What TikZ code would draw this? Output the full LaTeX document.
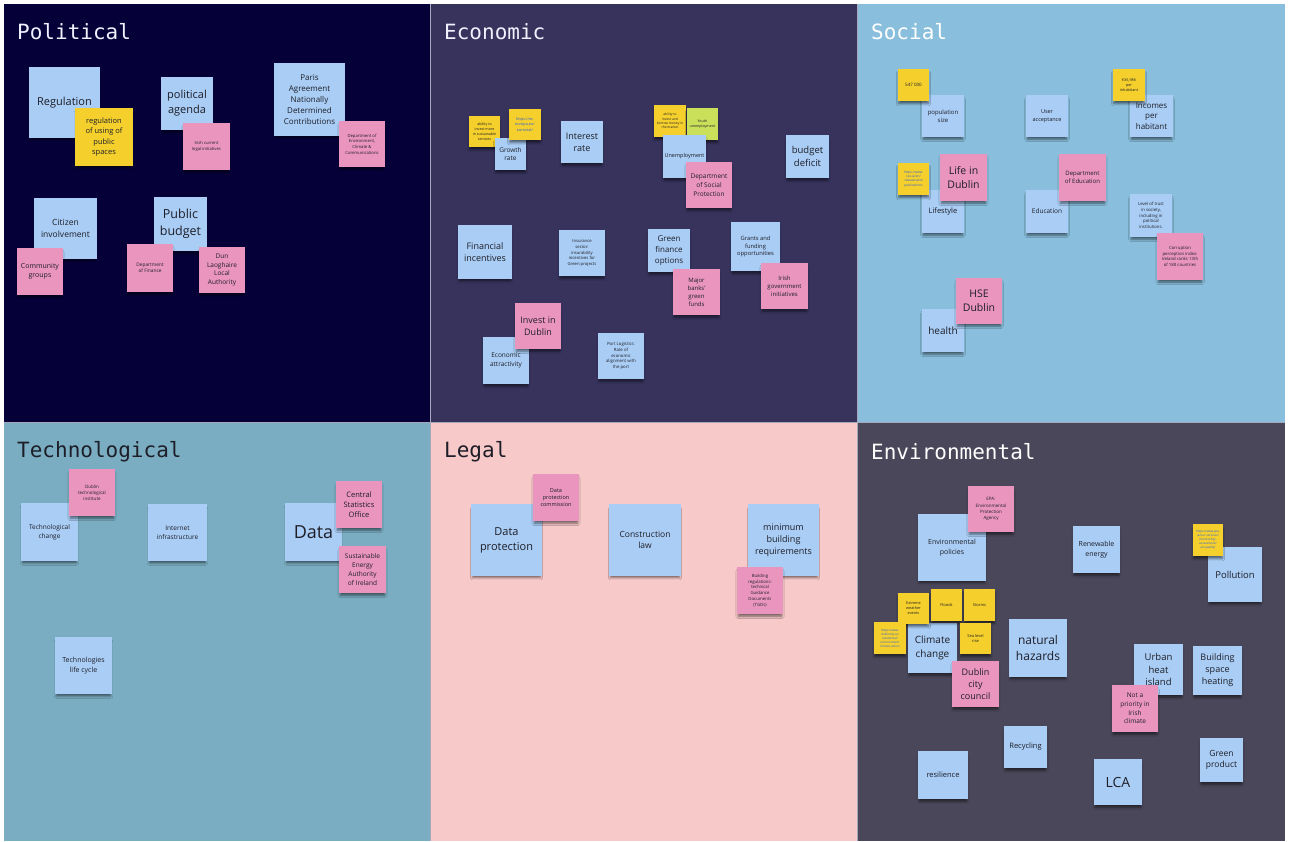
\documentclass[tikz,border=0pt]{standalone}
\usepackage{fontspec}
\setmainfont{Open Sans}
\newfontfamily\pestlemono{DejaVu Sans Mono}
\usetikzlibrary{shadows.blur}

\definecolor{pestlepolitical}{HTML}{050038}
\definecolor{pestleeconomic}{HTML}{37335D}
\definecolor{pestlesocial}{HTML}{89BFDD}
\definecolor{pestletech}{HTML}{7AADC2}
\definecolor{pestlelegal}{HTML}{F8C9C9}
\definecolor{pestleenv}{HTML}{494759}
\definecolor{pestlegap}{HTML}{A8A8BC}
\definecolor{pestleblue}{HTML}{A9CDF4}
\definecolor{pestlepink}{HTML}{EA95BE}
\definecolor{pestleyellow}{HTML}{F5D02C}
\definecolor{pestlelime}{HTML}{CBE05A}
\definecolor{pestleink}{HTML}{1E1E28}
\definecolor{pestlelink}{HTML}{2F5FD8}

% sticky note text: size in pt, leading 1.35x
\newcommand\notesize[1]{\fontsize{#1}{\fpeval{1.35*#1}}\selectfont}

\begin{document}
\begin{tikzpicture}[x=1pt,y=-1pt,
  every node/.style={text=pestleink,inner sep=1pt},
  pestletitle/.style={anchor=west,font=\pestlemono\fontsize{21}{24}\selectfont},
  pestlenote/.style={rectangle,align=center,
    blur shadow={shadow xshift=0pt,shadow yshift=-3.5pt,shadow scale=.95,
      shadow blur radius=2.5pt,shadow opacity=55}},
  bluenote/.style={pestlenote,fill=pestleblue},
  pinknote/.style={pestlenote,fill=pestlepink},
  yellownote/.style={pestlenote,fill=pestleyellow},
  limenote/.style={pestlenote,fill=pestlelime},
  linknote/.style={yellownote,text=pestlelink},
  wh/.style 2 args={minimum width=#1,minimum height=#2},
  fs/.style={font=\notesize{#1}}]
\useasboundingbox (0,0) rectangle (1290,841);
\fill[white] (0,0) rectangle (1290,841);

% the six fields
\fill[pestlegap] (4,4) rectangle (1285,841);
\fill[pestlepolitical] (4,4) rectangle (430,422);
\fill[pestleeconomic] (431,4) rectangle (857,422);
\fill[pestlesocial] (858,4) rectangle (1285,422);
\fill[pestletech] (4,423) rectangle (430,841);
\fill[pestlelegal] (431,423) rectangle (857,841);
\fill[pestleenv] (858,423) rectangle (1285,841);

\node[pestletitle,text=white!94!blue] (tpol) at (16,32) {Political};
\node[pestletitle,text=white!94!blue] (teco) at (443,32) {Economic};
\node[pestletitle,text=white] (tsoc) at (870,32) {Social};
\node[pestletitle,text=pestleink] (ttec) at (16,452) {Technological};
\node[pestletitle,text=pestleink] (tleg) at (443,452) {Legal};
\node[pestletitle,text=white] (tenv) at (870,452) {Environmental};

% political
\node[bluenote,wh={71}{71},fs=11] (regulation) at (64.5,102.5) {Regulation};
\node[yellownote,wh={58}{58},fs=7.5] (publicspace) at (104,137) {regulation\\of using of\\public\\spaces};
\node[bluenote,wh={52}{53},fs=11] (agenda) at (187,103.5) {political\\agenda};
\node[pinknote,wh={47}{47},fs=4.2] (irishlegal) at (206.5,146.5) {Irish current\\legal initiatives};
\node[bluenote,wh={71}{73},fs=8] (paris) at (309.5,99.5) {Paris\\Agreement\\Nationally\\Determined\\Contributions};
\node[pinknote,wh={46}{46},fs=4.2] (decc) at (362,144) {Department of\\Environment,\\Climate \&\\Communications};
\node[bluenote,wh={63}{61},fs=8.5] (citizen) at (65.5,228.5) {Citizen\\involvement};
\node[pinknote,wh={46}{47},fs=7] (community) at (40,271.5) {Community\\groups};
\node[bluenote,wh={53}{54},fs=12.5] (budget) at (180.5,224) {Public\\budget};
\node[pinknote,wh={46}{48},fs=4.8] (finance) at (150,268) {Department\\of Finance};
\node[pinknote,wh={46}{46},fs=6.5] (dlr) at (222,270) {Dun\\Laoghaire\\Local\\Authority};

% economic
\node[yellownote,wh={31}{31},fs=3.6] (invest) at (484.5,131.5) {ability to\\invest more\\in sustainable\\services};
\node[bluenote,wh={31}{32},fs=6.5] (growth) at (510.5,154) {Growth\\rate};
\node[linknote,wh={32}{31},fs=3.8] (eurostat) at (525,124.5) {https://ec.\\europa.eu/\\eurostat/};
\node[bluenote,wh={42}{42},fs=9] (interest) at (582,142) {Interest\\rate};
\node[yellownote,wh={32}{32},fs=3.3] (borrow) at (670,121) {ability to\\invest and\\borrow money in\\the market};
\node[limenote,wh={31}{32},fs=3.6] (youth) at (702.5,124) {Youth\\unemployment};
\node[bluenote,wh={43}{43},fs=5.5] (unemployment) at (684.5,156.5) {Unemployment};
\node[pinknote,wh={46}{46},fs=6.5] (socialprot) at (709,185) {Department\\of Social\\Protection};
\node[bluenote,wh={43}{43},fs=9.5] (deficit) at (807.5,156.5) {budget\\deficit};
\node[bluenote,wh={54}{54},fs=9] (incentives) at (485,252) {Financial\\incentives};
\node[bluenote,wh={46}{46},fs=4.2] (insurance) at (582,253) {Insurance\\sector:\\insurability\\incentives for\\Green projects};
\node[bluenote,wh={42}{43},fs=8] (greenfin) at (669,250.5) {Green\\finance\\options};
\node[pinknote,wh={47}{46},fs=6] (banks) at (696.5,292) {Major\\banks'\\green\\funds};
\node[bluenote,wh={49}{49},fs=5.8] (grants) at (755.5,246.5) {Grants and\\funding\\opportunities};
\node[pinknote,wh={47}{46},fs=6] (govinit) at (784.5,286) {Irish\\government\\initiatives};
\node[bluenote,wh={46}{47},fs=6.5] (attract) at (506,360.5) {Economic\\attractivity};
\node[pinknote,wh={46}{46},fs=9] (investdub) at (538,326) {Invest in\\Dublin};
\node[bluenote,wh={46}{46},fs=4.3] (port) at (621,356) {Port Logistics:\\Rate of\\economic\\alignment with\\the port};

% social
\node[bluenote,wh={42}{42},fs=6] (popsize) at (943,116) {population\\size};
\node[yellownote,wh={31}{32},fs=4.5] (popcount) at (913.5,85) {547 000};
\node[bluenote,wh={42}{42},fs=5.5] (acceptance) at (1047,116) {User\\acceptance};
\node[bluenote,wh={43}{42},fs=8] (incomes) at (1151.5,116) {Incomes\\per\\habitant};
\node[yellownote,wh={32}{32},fs=3.8] (income) at (1129,85) {€36,986\\per\\inhabitant};
\node[bluenote,wh={42}{43},fs=7.5] (lifestyle) at (943,211.5) {Lifestyle};
\node[linknote,wh={31}{32},fs=3.2] (cso) at (913.5,179) {https://www.\\cso.ie/en/\\releasesand\\publications};
\node[pinknote,wh={47}{47},fs=10.5] (lifedublin) at (963.5,177.5) {Life in\\Dublin};
\node[bluenote,wh={42}{43},fs=6.5] (education) at (1047,211.5) {Education};
\node[pinknote,wh={47}{47},fs=6] (deptedu) at (1082.5,177.5) {Department\\of Education};
\node[bluenote,wh={42}{43},fs=4.3] (trust) at (1151,215.5) {Level of trust\\in society,\\including in\\political\\institutions.};
\node[pinknote,wh={46}{47},fs=4.3] (corruption) at (1180,256.5) {Corruption\\perception index:\\Ireland ranks 13th\\of 180 countries};
\node[bluenote,wh={42}{43},fs=10] (health) at (943,330.5) {health};
\node[pinknote,wh={46}{46},fs=10.5] (hse) at (979,301) {HSE\\Dublin};

% technological
\node[bluenote,wh={57}{58},fs=6.5] (techchange) at (49.5,532) {Technological\\change};
\node[pinknote,wh={46}{47},fs=4.5] (tudublin) at (92,492.5) {Dublin\\technological\\institute};
\node[bluenote,wh={59}{57},fs=6.5] (internet) at (177.5,532.5) {Internet\\infrastructure};
\node[bluenote,wh={57}{58},fs=18] (data) at (313.5,532) {Data};
\node[pinknote,wh={46}{47},fs=7.5] (statsoffice) at (359,504.5) {Central\\Statistics\\Office};
\node[pinknote,wh={47}{47},fs=6.5] (seai) at (362.5,569.5) {Sustainable\\Energy\\Authority\\of Ireland};
\node[bluenote,wh={57}{57},fs=7] (lifecycle) at (83.5,665.5) {Technologies\\life cycle};

% legal
\node[bluenote,wh={71}{72},fs=11] (dataprot) at (506.5,540) {Data\\protection};
\node[pinknote,wh={46}{47},fs=5.5] (dpc) at (556,497.5) {Data\\protection\\commission};
\node[bluenote,wh={72}{72},fs=8.5] (construction) at (645,540) {Construction\\law};
\node[bluenote,wh={71}{72},fs=9] (minreq) at (783.5,540) {minimum\\building\\requirements};
\node[pinknote,wh={46}{47},fs=4.3] (buildregs) at (760,590.5) {Building\\regulations:\\technical\\Guidance\\Documents\\(TGDs)};

% environmental
\node[bluenote,wh={68}{67},fs=7] (envpolicy) at (952,547.5) {Environmental\\policies};
\node[pinknote,wh={46}{46},fs=4.5] (epa) at (991,509) {EPA:\\Environmental\\Protection\\Agency};
\node[bluenote,wh={47}{47},fs=7] (renewable) at (1096.5,549.5) {Renewable\\energy};
\node[bluenote,wh={54}{55},fs=9.5] (pollution) at (1235,574.5) {Pollution};
\node[linknote,wh={30}{32},fs=3] (epalink) at (1208,540) {https://www.epa.\\ie/our-services/\\monitoring--\\assessment/\\air-quality/};
\node[bluenote,wh={49}{50},fs=10] (climate) at (932.5,648) {Climate\\change};
\node[yellownote,wh={31}{31},fs=3.8] (extreme) at (913.5,608.5) {Extreme\\weather\\events};
\node[yellownote,wh={31}{32},fs=4] (floods) at (946.5,605) {Floods};
\node[yellownote,wh={31}{32},fs=4] (storms) at (979.5,605) {Storms};
\node[linknote,wh={32}{32},fs=3] (climatelink) at (890,638) {https://www.\\dublincity.ie/\\residential/\\environment/\\climate-action};
\node[yellownote,wh={31}{31},fs=4] (sealevel) at (975.5,638.5) {Sea level\\rise};
\node[pinknote,wh={47}{46},fs=9] (dcc) at (975.5,684) {Dublin\\city\\council};
\node[bluenote,wh={58}{58},fs=12] (hazards) at (1038,648) {natural\\hazards};
\node[bluenote,wh={49}{51},fs=9.5] (heatisland) at (1158.5,669.5) {Urban\\heat\\island};
\node[bluenote,wh={49}{49},fs=9] (heating) at (1217.5,670.5) {Building\\space\\heating};
\node[pinknote,wh={46}{47},fs=6.5] (priority) at (1135,708.5) {Not a\\priority in\\Irish\\climate};
\node[bluenote,wh={50}{48},fs=7.5] (resilience) at (943,775) {resilience};
\node[bluenote,wh={43}{42},fs=7.5] (recycling) at (1025.5,747) {Recycling};
\node[bluenote,wh={48}{46},fs=14] (lca) at (1118,782) {LCA};
\node[bluenote,wh={43}{44},fs=8.5] (greenprod) at (1221.5,760) {Green\\product};
\end{tikzpicture}
\end{document}
